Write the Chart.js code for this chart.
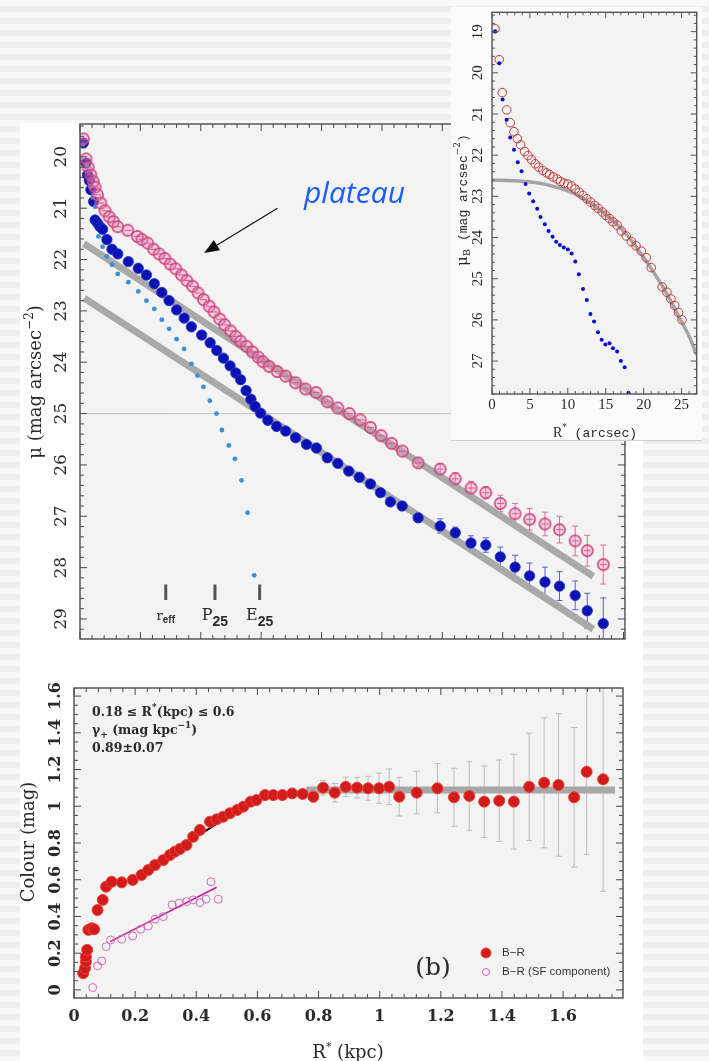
<!DOCTYPE html>
<html>
<head>
<meta charset="utf-8">
<title>Surface brightness and colour profiles</title>
<script src="https://cdn.jsdelivr.net/npm/chart.js@4.4.1/dist/chart.umd.min.js"></script>
<style>
  html, body { margin: 0; padding: 0; }
  body {
    width: 709px; height: 1061px; overflow: hidden; position: relative;
    background: repeating-linear-gradient(180deg, #f8f8f8 0px, #f8f8f8 6px, #eeeeee 6px, #eeeeee 12px);
  }
  #card { position: absolute; left: 20px; top: 123px; width: 623px; height: 938px; background: #fff; }
  canvas { position: absolute; }
  #profileChart { left: 20px; top: 110px; }
  #insetBox { position: absolute; left: 451px; top: 7px; width: 251px; height: 433px; background: #fbfbfb; border-bottom: 1px solid #cfcfcf; }
  #insetChart { left: 0; top: 0; }
  #colourChart { left: 20px; top: 660px; }
</style>
</head>
<body>
<div id="card"></div>
<canvas id="profileChart" width="620" height="545"></canvas>
<div id="insetBox"><canvas id="insetChart" width="251" height="433"></canvas></div>
<canvas id="colourChart" width="623" height="401"></canvas>
<script>
// ---- surface brightness profiles (kpc, mag/arcsec^2) ----
const pinkR = [0.011, 0.020, 0.027, 0.036, 0.044, 0.050, 0.058, 0.069, 0.083, 0.097,
  0.111, 0.125, 0.158, 0.190, 0.205, 0.224, 0.244, 0.262, 0.281, 0.299,
  0.317, 0.336, 0.354, 0.373, 0.391, 0.409, 0.428, 0.444, 0.463, 0.479,
  0.499, 0.516, 0.532, 0.552, 0.571, 0.590, 0.606, 0.626, 0.653, 0.681,
  0.714, 0.747, 0.782, 0.819, 0.854, 0.892, 0.928, 0.962, 0.997, 1.032,
  1.068, 1.120, 1.193, 1.243, 1.295, 1.344, 1.392, 1.441, 1.489, 1.540,
  1.588, 1.640, 1.680, 1.733];
const pinkMu = [19.65, 20.04, 20.20, 20.35, 20.48, 20.59, 20.74, 20.90, 21.05, 21.17,
  21.26, 21.36, 21.43, 21.55, 21.61, 21.68, 21.80, 21.89, 21.98, 22.09,
  22.18, 22.30, 22.41, 22.52, 22.65, 22.78, 22.91, 23.02, 23.16, 23.27,
  23.39, 23.50, 23.59, 23.69, 23.80, 23.90, 23.99, 24.08, 24.18, 24.27,
  24.40, 24.52, 24.59, 24.77, 24.89, 25.00, 25.12, 25.27, 25.43, 25.58,
  25.73, 25.96, 26.08, 26.27, 26.45, 26.54, 26.75, 26.95, 27.06, 27.15,
  27.26, 27.48, 27.67, 27.94];
// error bars of the outermost pink points
const pinkErr = [0.07, 0.10, 0.12, 0.13, 0.12, 0.16, 0.20, 0.21, 0.23, 0.26, 0.29, 0.30, 0.38];

const blueR = [0.011, 0.020, 0.025, 0.031, 0.036, 0.045, 0.050, 0.058, 0.066, 0.075,
  0.089, 0.106, 0.125, 0.160, 0.193, 0.220, 0.246, 0.271, 0.295, 0.320,
  0.345, 0.369, 0.403, 0.431, 0.453, 0.475, 0.497, 0.516, 0.532, 0.550,
  0.566, 0.580, 0.598, 0.622, 0.651, 0.681, 0.714, 0.750, 0.783, 0.819,
  0.854, 0.890, 0.925, 0.962, 0.995, 1.028, 1.067, 1.120, 1.193, 1.243,
  1.295, 1.344, 1.392, 1.441, 1.489, 1.540, 1.588, 1.640, 1.680, 1.733];
const blueMu = [19.73, 20.12, 20.35, 20.46, 20.64, 20.87, 21.23, 21.29, 21.36, 21.41,
  21.61, 21.80, 21.89, 22.04, 22.17, 22.30, 22.47, 22.64, 22.80, 22.98,
  23.14, 23.31, 23.47, 23.62, 23.77, 23.92, 24.07, 24.21, 24.34, 24.55,
  24.72, 24.86, 24.99, 25.13, 25.25, 25.34, 25.47, 25.60, 25.67, 25.86,
  25.97, 26.12, 26.24, 26.37, 26.54, 26.72, 26.80, 27.03, 27.19, 27.32,
  27.52, 27.56, 27.79, 27.99, 28.16, 28.28, 28.36, 28.54, 28.84, 29.09];
const blueErr = [0.06, 0.14, 0.11, 0.14, 0.14, 0.19, 0.23, 0.25, 0.29, 0.28, 0.28, 0.34, 0.50];

const cyanR = [0.009, 0.023, 0.034, 0.042, 0.050, 0.061, 0.075, 0.089, 0.106, 0.125,
  0.160, 0.193, 0.220, 0.246, 0.271, 0.295, 0.320, 0.345, 0.369, 0.389,
  0.409, 0.430, 0.452, 0.470, 0.493, 0.513, 0.535, 0.555, 0.577];
const cyanMu = [19.77, 20.16, 20.58, 20.79, 20.97, 21.55, 21.75, 21.94, 22.10, 22.28,
  22.44, 22.62, 22.80, 22.96, 23.17, 23.35, 23.55, 23.74, 24.03, 24.26,
  24.48, 24.75, 25.00, 25.32, 25.62, 25.88, 26.30, 26.93, 28.15];

const fitUpperR = [0.013, 1.70];
const fitUpperMu = [21.69, 28.17];
const fitLowerR = [0.014, 1.70];
const fitLowerMu = [22.75, 29.20];
const refMu = 25;

const markerR = [0.284, 0.447, 0.595];
const markerName = ['r', 'P', 'E'];
const markerSub = ['eff', '25', '25'];
const muTicks = ['20', '21', '22', '23', '24', '25', '26', '27', '28', '29'];

// ---- inset profile (arcsec) ----
const insetOpenR = [0.4, 0.96, 1.36, 1.93, 2.4, 2.9, 3.35, 3.78, 4.3, 4.75,
  5.2, 5.7, 6.15, 6.7, 7.2, 7.6, 8.07, 8.6, 9.03, 9.5,
  10.0, 10.5, 10.96, 11.5, 12.0, 12.5, 13.0, 13.55, 14.0, 14.56,
  15.0, 15.5, 15.96, 16.5, 17.06, 17.7, 18.4, 19.0, 19.7, 20.35,
  21.0, 22.45, 23.07, 23.6, 24.1, 24.6, 25.06];
const insetOpenMu = [18.93, 19.68, 20.48, 20.90, 21.21, 21.43, 21.60, 21.75, 21.91, 22.01,
  22.11, 22.21, 22.29, 22.37, 22.43, 22.47, 22.53, 22.58, 22.64, 22.68,
  22.70, 22.75, 22.82, 22.90, 22.98, 23.06, 23.14, 23.22, 23.29, 23.38,
  23.46, 23.54, 23.62, 23.70, 23.84, 23.96, 24.10, 24.20, 24.33, 24.49,
  24.73, 25.20, 25.33, 25.49, 25.65, 25.82, 26.00];
const insetDotR = [0.4, 0.96, 1.4, 1.93, 2.4, 2.9, 3.4, 3.9, 4.43, 4.9,
  5.43, 5.96, 6.4, 6.97, 7.46, 7.99, 8.46, 8.95, 9.47, 10.0,
  10.5, 10.99, 11.46, 12.0, 12.5, 12.98, 13.46, 13.98, 14.47, 14.96,
  15.5, 15.96, 16.5, 17.0, 17.5, 18.0];
const insetDotMu = [18.99, 19.77, 20.65, 21.14, 21.57, 21.87, 22.17, 22.39, 22.70, 22.93,
  23.12, 23.30, 23.50, 23.68, 23.84, 23.98, 24.10, 24.18, 24.24, 24.29,
  24.39, 24.58, 24.89, 25.25, 25.52, 25.86, 26.04, 26.30, 26.48, 26.60,
  26.57, 26.69, 26.77, 27.00, 27.15, 27.77];
const insetFitR = [0, 3, 6.3, 8.5, 10.7, 12.5, 14.2, 15.7, 17.07, 18.5, 20, 21.2, 22.96, 24.7, 26, 27];
const insetFitMu = [22.61, 22.62, 22.68, 22.78, 22.92, 23.10, 23.32, 23.55, 23.79, 24.10, 24.48, 24.81, 25.33, 25.94, 26.40, 26.85];
const insetMuTicks = ['19', '20', '21', '22', '23', '24', '25', '26', '27'];
const insetRTicks = ['0', '5', '10', '15', '20', '25'];

// ---- colour profile ----
const colR = [0.030, 0.036, 0.039, 0.039, 0.043, 0.047, 0.058, 0.066, 0.077, 0.094,
  0.105, 0.123, 0.156, 0.192, 0.221, 0.243, 0.265, 0.292, 0.314, 0.330,
  0.347, 0.368, 0.390, 0.412, 0.445, 0.467, 0.488, 0.510, 0.534, 0.554,
  0.578, 0.597, 0.625, 0.652, 0.682, 0.714, 0.748, 0.783, 0.815, 0.853,
  0.889, 0.926, 0.962, 0.998, 1.031, 1.064, 1.121, 1.189, 1.243, 1.293,
  1.342, 1.391, 1.439, 1.489, 1.538, 1.585, 1.636, 1.677, 1.731];
const colBR = [0.091, 0.118, 0.154, 0.181, 0.218, 0.327, 0.336, 0.330, 0.435, 0.490,
  0.562, 0.589, 0.586, 0.599, 0.626, 0.653, 0.680, 0.707, 0.735, 0.753,
  0.768, 0.789, 0.834, 0.871, 0.916, 0.929, 0.943, 0.962, 0.980, 0.998,
  1.025, 1.034, 1.061, 1.061, 1.061, 1.070, 1.067, 1.052, 1.101, 1.074,
  1.106, 1.101, 1.098, 1.098, 1.106, 1.052, 1.074, 1.098, 1.049, 1.056,
  1.025, 1.030, 1.025, 1.106, 1.128, 1.116, 1.049, 1.188, 1.147];
// error bars from 0.71 kpc outwards
const colErr = [0.02, 0.02, 0.03, 0.04, 0.05, 0.053, 0.056, 0.065, 0.082, 0.097,
  0.105, 0.115, 0.134, 0.158, 0.187, 0.195, 0.222, 0.258, 0.292, 0.354,
  0.388, 0.38, 0.45, 0.61];
const sfR = [0.061, 0.077, 0.091, 0.105, 0.120, 0.156, 0.192, 0.218, 0.243, 0.265,
  0.292, 0.321, 0.344, 0.369, 0.390, 0.412, 0.432, 0.448, 0.472];
const sfBR = [0.013, 0.131, 0.158, 0.236, 0.272, 0.276, 0.294, 0.330, 0.348, 0.385,
  0.399, 0.463, 0.472, 0.481, 0.490, 0.475, 0.494, 0.589, 0.494];
const gradR = [0.175, 0.62];
const gradBR = [0.59, 1.07];
const sfFitR = [0.118, 0.467];
const sfFitBR = [0.263, 0.559];
const outerR = [0.76, 1.77];
const outerBR = [1.088, 1.088];
const colourTicks = ['0', '0.2', '0.4', '0.6', '0.8', '1', '1.2', '1.4', '1.6'];
const kpcTicks = ['0', '0.2', '0.4', '0.6', '0.8', '1', '1.2', '1.4', '1.6'];

const pts = (xs, ys) => xs.map((v, i) => ({ x: v, y: ys[i] }));
const tailErrors = (n, err) => Array(n - err.length).fill(null).concat(err);

const SERIF = '"DejaVu Serif"';

// draws runs of text with their own font and vertical shift: [text, font, dy]
function richText(ctx, parts, x, y, align) {
  let w = 0;
  for (const [t, f] of parts) { ctx.font = f; w += ctx.measureText(t).width; }
  let cx = align === 'center' ? x - w / 2 : x;
  ctx.textAlign = 'left';
  ctx.textBaseline = 'alphabetic';
  for (const [t, f, dy = 0] of parts) {
    ctx.font = f;
    ctx.fillText(t, cx, y + dy);
    cx += ctx.measureText(t).width;
  }
}

function eachTick(scale, minor, major, fn) {
  const start = Math.ceil(scale.min / minor - 1e-6);
  const end = Math.floor(scale.max / minor + 1e-6);
  for (let k = start; k <= end; k++) {
    const v = k * minor;
    const r = v / major;
    fn(scale.getPixelForValue(v), Math.abs(r - Math.round(r)) < 1e-6);
  }
}

// plot background, boxed frame with inward ticks, rotated y labels
const framePlugin = {
  id: 'frame',
  beforeDraw(chart, args, o) {
    const { ctx, chartArea: a } = chart;
    ctx.save();
    ctx.fillStyle = o.background;
    ctx.fillRect(a.left, a.top, a.right - a.left, a.bottom - a.top);
    ctx.restore();
  },
  afterDraw(chart, args, o) {
    const { ctx, chartArea: a, scales: { x, y } } = chart;
    ctx.save();
    ctx.strokeStyle = o.color;
    ctx.lineWidth = 1;
    ctx.beginPath();
    eachTick(x, o.xMinor, o.xMajor, (px, major) => {
      const len = major ? o.majorLen : o.minorLen;
      ctx.moveTo(px, a.bottom); ctx.lineTo(px, a.bottom - len);
      ctx.moveTo(px, a.top); ctx.lineTo(px, a.top + len);
    });
    eachTick(y, o.yMinor, o.yMajor, (py, major) => {
      const len = major ? o.majorLen : o.minorLen;
      ctx.moveTo(a.left, py); ctx.lineTo(a.left + len, py);
      ctx.moveTo(a.right, py); ctx.lineTo(a.right - len, py);
    });
    ctx.stroke();
    ctx.lineWidth = 1.4;
    ctx.strokeRect(a.left, a.top, a.right - a.left, a.bottom - a.top);

    ctx.fillStyle = o.textColor;
    ctx.font = o.font;
    ctx.textAlign = 'center';
    ctx.textBaseline = 'middle';
    (o.xLabels || []).forEach(t => ctx.fillText(t, x.getPixelForValue(parseFloat(t)), o.xLabelY));
    (o.yLabels || []).forEach(t => {
      ctx.save();
      ctx.translate(o.yLabelX, y.getPixelForValue(parseFloat(t)));
      ctx.rotate(-Math.PI / 2);
      ctx.fillText(t, 0, 0);
      ctx.restore();
    });
    ctx.restore();
  }
};

// vertical error bars with short caps, taken from dataset.errors
const errorBarPlugin = {
  id: 'errorBars',
  beforeDatasetsDraw(chart) {
    const { ctx, chartArea: a } = chart;
    ctx.save();
    ctx.beginPath();
    ctx.rect(a.left, a.top, a.right - a.left, a.bottom - a.top);
    ctx.clip();
    chart.data.datasets.forEach((ds, i) => {
      if (!ds.errors) return;
      const meta = chart.getDatasetMeta(i);
      const ys = chart.scales[meta.yAxisID];
      ctx.strokeStyle = ds.errorColor;
      ctx.lineWidth = 1;
      ds.data.forEach((p, j) => {
        const e = ds.errors[j];
        if (e == null) return;
        const px = meta.data[j].x;
        const t = ys.getPixelForValue(p.y + e);
        const b = ys.getPixelForValue(p.y - e);
        ctx.beginPath();
        ctx.moveTo(px, t); ctx.lineTo(px, b);
        ctx.moveTo(px - 3, t); ctx.lineTo(px + 3, t);
        ctx.moveTo(px - 3, b); ctx.lineTo(px + 3, b);
        ctx.stroke();
      });
    });
    ctx.restore();
  }
};

// open pink circle with a bar across it
function thetaMarker() {
  const c = document.createElement('canvas');
  c.width = c.height = 15;
  const g = c.getContext('2d');
  g.beginPath();
  g.arc(7.5, 7.5, 5.6, 0, 2 * Math.PI);
  g.fillStyle = 'rgba(232, 140, 185, 0.35)';
  g.fill();
  g.lineWidth = 1.6;
  g.strokeStyle = '#d0467f';
  g.stroke();
  g.beginPath();
  g.moveTo(4, 7.5); g.lineTo(11, 7.5);
  g.lineWidth = 1.1;
  g.strokeStyle = '#d85c90';
  g.stroke();
  return c;
}

const profileNotes = {
  id: 'profileNotes',
  afterDraw(chart) {
    const { ctx, scales: { x, y } } = chart;
    ctx.save();
    ctx.fillStyle = '#2a2a2a';
    ctx.save();
    ctx.translate(15, 272);
    ctx.rotate(-Math.PI / 2);
    richText(ctx, [['\u03bc (mag arcsec', '18px ' + SERIF], ['\u22122', '12px ' + SERIF, -8], [')', '18px ' + SERIF]], 0, 6, 'center');
    ctx.restore();

    markerR.forEach((r, i) => {
      const cx = x.getPixelForValue(r);
      const by = y.getPixelForValue(29.02);
      const small = i === 0;
      richText(ctx, [
        [markerName[i], (small ? '13px ' : '16px ') + SERIF],
        [markerSub[i], small ? 'bold 10px "Liberation Sans"' : 'bold 14px "Liberation Sans"', small ? 3 : 6]
      ], cx, by, 'center');
    });

    ctx.fillStyle = '#1b5cff';
    ctx.font = 'italic 30px "Open Sans"';
    ctx.textAlign = 'left';
    ctx.textBaseline = 'alphabetic';
    ctx.fillText('plateau', 284, 93);

    const x0 = x.getPixelForValue(0.654), y0 = y.getPixelForValue(21.0);
    const x1 = x.getPixelForValue(0.411), y1 = y.getPixelForValue(21.87);
    const ang = Math.atan2(y1 - y0, x1 - x0);
    ctx.strokeStyle = '#111';
    ctx.fillStyle = '#111';
    ctx.lineWidth = 1.2;
    ctx.beginPath();
    ctx.moveTo(x0, y0);
    ctx.lineTo(x1 - 10 * Math.cos(ang), y1 - 10 * Math.sin(ang));
    ctx.stroke();
    ctx.beginPath();
    ctx.moveTo(x1, y1);
    ctx.lineTo(x1 - 15 * Math.cos(ang) + 6 * Math.sin(ang), y1 - 15 * Math.sin(ang) - 6 * Math.cos(ang));
    ctx.lineTo(x1 - 15 * Math.cos(ang) - 6 * Math.sin(ang), y1 - 15 * Math.sin(ang) + 6 * Math.cos(ang));
    ctx.closePath();
    ctx.fill();
    ctx.restore();
  }
};

const insetNotes = {
  id: 'insetNotes',
  afterDraw(chart) {
    const { ctx } = chart;
    const mono = '13px "Liberation Mono"';
    ctx.save();
    ctx.fillStyle = '#2a2a2a';
    ctx.save();
    ctx.translate(11, 193);
    ctx.rotate(-Math.PI / 2);
    richText(ctx, [['\u03bc', '15px ' + SERIF], ['B', '10px ' + SERIF, 3], [' (mag arcsec', mono], ['\u22122', '9px ' + SERIF, -7], [')', mono]], 0, 5, 'center');
    ctx.restore();
    richText(ctx, [['R', '14px "Liberation Serif"'], ['*', '9px ' + SERIF, -7], [' (arcsec)', mono]], 144, 430, 'center');
    ctx.restore();
  }
};

const colourNotes = {
  id: 'colourNotes',
  afterDraw(chart) {
    const { ctx } = chart;
    const b = 'bold 12.5px ' + SERIF;
    const bs = 'bold 9px ' + SERIF;
    ctx.save();
    ctx.fillStyle = '#2a2a2a';
    richText(ctx, [['0.18 \u2264 R', b], ['*', bs, -6], ['(kpc) \u2264 0.6', b]], 72, 56, 'left');
    richText(ctx, [['\u03b3', b], ['+', bs, 4], [' (mag kpc', b], ['\u22121', bs, -6], [')', b]], 72, 74, 'left');
    richText(ctx, [['0.89\u00b10.07', b]], 72, 92, 'left');

    ctx.font = '25px ' + SERIF;
    ctx.textAlign = 'center';
    ctx.textBaseline = 'middle';
    ctx.fillText('(b)', 413, 308);

    // legend, styled from the two point datasets
    const legend = chart.data.datasets.filter(d => d.legendLabel);
    legend.forEach((d, i) => {
      const ly = 293 + i * 19;
      ctx.beginPath();
      ctx.arc(466, ly, d.pointRadius - 0.5, 0, 2 * Math.PI);
      if (d.pointBackgroundColor !== 'transparent') {
        ctx.fillStyle = d.pointBackgroundColor;
        ctx.fill();
      }
      ctx.lineWidth = 1;
      ctx.strokeStyle = d.pointBorderColor;
      ctx.stroke();
      ctx.fillStyle = '#333';
      ctx.font = '11.5px "Liberation Sans"';
      ctx.textAlign = 'left';
      ctx.fillText(d.legendLabel, 482, ly);
    });

    ctx.fillStyle = '#2a2a2a';
    ctx.save();
    ctx.translate(8, 182);
    ctx.rotate(-Math.PI / 2);
    richText(ctx, [['Colour (mag)', '18px ' + SERIF]], 0, 6, 'center');
    ctx.restore();
    richText(ctx, [['R', '18px ' + SERIF], ['*', '11px ' + SERIF, -8], [' (kpc)', '18px ' + SERIF]], 328, 398, 'center');
    ctx.restore();
  }
};

const baseOptions = (xMin, xMax, yMin, yMax, reverse, pad, yWidth, xHeight, frame) => ({
  responsive: false,
  animation: false,
  events: [],
  layout: { padding: pad },
  plugins: { legend: { display: false }, tooltip: { enabled: false }, frame },
  scales: {
    x: {
      type: 'linear', min: xMin, max: xMax,
      ticks: { display: false }, grid: { display: false }, border: { display: false },
      afterFit: s => { s.height = xHeight; }
    },
    y: {
      type: 'linear', min: yMin, max: yMax, reverse,
      ticks: { display: false }, grid: { display: false }, border: { display: false },
      afterFit: s => { s.width = yWidth; }
    }
  }
});

const lineSet = (xs, ys, color, width, order) => ({
  data: pts(xs, ys), showLine: true, pointRadius: 0, borderColor: color,
  borderWidth: width, borderCapStyle: 'butt', fill: false, order
});

// main surface brightness panel
new Chart(document.getElementById('profileChart'), {
  type: 'scatter',
  data: {
    datasets: [
      {
        data: pts(pinkR, pinkMu), pointStyle: thetaMarker(), pointRadius: 6,
        errors: tailErrors(pinkR.length, pinkErr), errorColor: '#dc6c9e', order: 1
      },
      {
        data: pts(cyanR, cyanMu), pointRadius: 2.4, pointBackgroundColor: '#3b8fd2',
        pointBorderColor: '#3b8fd2', pointBorderWidth: 0, order: 2
      },
      {
        data: pts(blueR, blueMu), pointRadius: 5.2, pointBackgroundColor: '#0a12b6',
        pointBorderColor: '#2a34c4', pointBorderWidth: 0.8,
        errors: tailErrors(blueR.length, blueErr), errorColor: '#5562c8', order: 3
      },
      lineSet(fitUpperR, fitUpperMu, '#a9a9a9', 7, 4),
      lineSet(fitLowerR, fitLowerMu, '#a9a9a9', 7, 5),
      lineSet([0, 1.805], [refMu, refMu], '#c2c2c2', 1, 6),
      ...markerR.map(r => lineSet([r, r], [28.33, 28.63], '#555', 3, 7))
    ]
  },
  options: baseOptions(0, 1.805, 19.36, 29.39, true, { top: 14, right: 15, left: 0, bottom: 0 }, 60, 16, {
    background: '#f3f3f3', color: '#4a4a4a', textColor: '#2a2a2a', font: '17px ' + SERIF,
    xMajor: 0.2, xMinor: 0.04, yMajor: 1, yMinor: 0.2, majorLen: 7, minorLen: 4,
    yLabels: muTicks, yLabelX: 42
  }),
  plugins: [framePlugin, errorBarPlugin, profileNotes]
});

// inset: profile in arcsec
new Chart(document.getElementById('insetChart'), {
  type: 'scatter',
  data: {
    datasets: [
      {
        data: pts(insetOpenR, insetOpenMu), pointRadius: 4.3, pointBackgroundColor: 'transparent',
        pointBorderColor: '#c43c3c', pointBorderWidth: 1, order: 2
      },
      {
        data: pts(insetDotR, insetDotMu), pointRadius: 2, pointBackgroundColor: '#0a0ad0',
        pointBorderColor: '#0a0ad0', pointBorderWidth: 0, order: 1
      },
      Object.assign(lineSet(insetFitR, insetFitMu, '#a4a4a4', 3.5, 3), { tension: 0.4 })
    ]
  },
  options: baseOptions(0, 27, 18.53, 27.8, true, { top: 3, right: 5, left: 0, bottom: 0 }, 41, 46, {
    background: '#f3f3f3', color: '#555', textColor: '#2a2a2a', font: '15px "Liberation Serif"',
    xMajor: 5, xMinor: 1, yMajor: 1, yMinor: 0.2, majorLen: 6, minorLen: 3,
    yLabels: insetMuTicks, yLabelX: 27, xLabels: insetRTicks, xLabelY: 398
  }),
  plugins: [framePlugin, insetNotes]
});

// colour profile panel (b)
new Chart(document.getElementById('colourChart'), {
  type: 'scatter',
  data: {
    datasets: [
      {
        data: pts(colR, colBR), pointRadius: 5.5, pointBackgroundColor: '#d21c1c',
        pointBorderColor: '#e8403a', pointBorderWidth: 1, legendLabel: 'B\u2212R',
        errors: tailErrors(colR.length, colErr), errorColor: '#b9bdbd', order: 1
      },
      {
        data: pts(sfR, sfBR), pointRadius: 4, pointBackgroundColor: 'transparent',
        pointBorderColor: '#d26cb6', pointBorderWidth: 1, legendLabel: 'B\u2212R (SF component)', order: 2
      },
      lineSet(gradR, gradBR, '#111', 2, 3),
      lineSet(sfFitR, sfFitBR, '#c21c9c', 1.5, 4),
      lineSet(outerR, outerBR, '#a8a8a8', 7, 5)
    ]
  },
  options: baseOptions(0, 1.796, -0.044, 1.644, false, { top: 28, right: 20, left: 0, bottom: 0 }, 54, 63, {
    background: '#f3f3f3', color: '#4a4a4a', textColor: '#2a2a2a', font: 'bold 16px ' + SERIF,
    xMajor: 0.2, xMinor: 0.04, yMajor: 0.2, yMinor: 0.05, majorLen: 7, minorLen: 4,
    yLabels: colourTicks, yLabelX: 36, xLabels: kpcTicks, xLabelY: 357
  }),
  plugins: [framePlugin, errorBarPlugin, colourNotes]
});
</script>
</body>
</html>
